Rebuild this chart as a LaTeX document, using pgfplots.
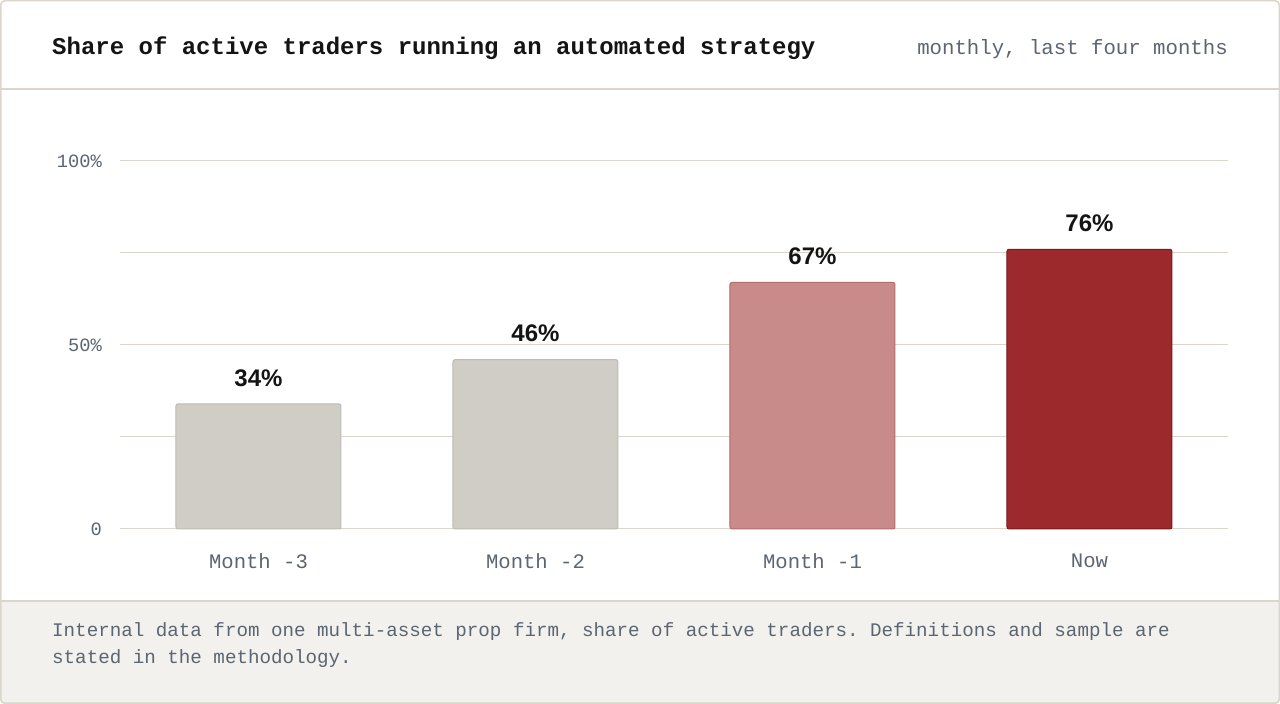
\documentclass[border=0pt]{standalone}
\usepackage{fontspec}
\usepackage{pgfplots}
\pgfplotsset{compat=1.18}
\setmainfont{Liberation Sans}
\setmonofont{Liberation Mono}
\newfontfamily\valfont{Liberation Sans}

\definecolor{framecol}{HTML}{DAD6CB}
\definecolor{footbg}{HTML}{F2F1ED}
\definecolor{gridcol}{HTML}{DAD6CD}
\definecolor{inkcol}{HTML}{141414}
\definecolor{mutedcol}{HTML}{5C6572}
\definecolor{graybar}{HTML}{D0CDC6}
\definecolor{graybord}{HTML}{BFBBB2}
\definecolor{pinkbar}{HTML}{C98A8A}
\definecolor{pinkbord}{HTML}{B26D6D}
\definecolor{redbar}{HTML}{9C2A2C}
\definecolor{redbord}{HTML}{7A1A1C}

\begin{document}
\begin{tikzpicture}[x=1pt,y=1pt]
\useasboundingbox (0,0) rectangle (1280,704);
% card background, header rule and footer band
\fill[white, rounded corners=4pt] (0,0) rectangle (1280,704);
\begin{scope}
\clip[rounded corners=4pt] (0,0) rectangle (1280,704);
\fill[footbg] (0,0) rectangle (1280,103);
\end{scope}
\draw[framecol, line width=1.2pt] (0,103) -- (1280,103);
\draw[framecol, line width=1.2pt] (0,615) -- (1280,615);
\draw[framecol, line width=1.5pt, rounded corners=4pt] (0.75,0.75) rectangle (1279.25,703.25);

% header
\node[anchor=base west, inner sep=0, text=inkcol, font=\fontsize{24}{28}\selectfont\ttfamily\bfseries] at (52,649) {Share of active traders running an automated strategy};
\node[anchor=base east, inner sep=0, text=mutedcol, font=\fontsize{20.7}{24}\selectfont\ttfamily] at (1228,649) {monthly, last four months};

% footer
\node[anchor=base west, inner sep=0, text=mutedcol, font=\fontsize{19.2}{27}\selectfont\ttfamily] at (52,67) {Internal data from one multi-asset prop firm, share of active traders. Definitions and sample are};
\node[anchor=base west, inner sep=0, text=mutedcol, font=\fontsize{19.2}{27}\selectfont\ttfamily] at (52,40) {stated in the methodology.};

\begin{axis}[
    anchor=south west, at={(120pt,175pt)},
    scale only axis, width=1108pt, height=368pt,
    xmin=-0.5, xmax=3.5, ymin=0, ymax=100,
    axis line style={draw=none},
    ybar, bar width=165pt,
    xtick={0,1,2,3},
    xticklabels={Month -3,Month -2,Month -1,Now},
    ytick={0,25,50,75,100},
    yticklabels={0,,50\%,,100\%},
    tick style={draw=none},
    ymajorgrids=true,
    grid style={gridcol, line width=1pt},
    yticklabel style={font=\fontsize{18.75}{22}\selectfont\ttfamily, text=mutedcol, inner sep=0pt, anchor=east, xshift=-18pt},
    xticklabel style={font=\fontsize{20.6}{24}\selectfont\ttfamily, text=mutedcol, inner sep=0pt, anchor=north, yshift=-20pt},
    clip=false,
    /pgf/number format/assume math mode=true,
    nodes near coords={\pgfmathprintnumber{\pgfplotspointmeta}\%},
    every node near coord/.append style={font=\fontsize{24}{28}\selectfont\valfont\bfseries, text=inkcol, inner sep=0pt, anchor=south, yshift=17pt},
]
\addplot[fill=graybar, draw=graybord, line width=1pt, rounded corners=2pt, bar shift=0pt] coordinates {(0,34)};
\addplot[fill=graybar, draw=graybord, line width=1pt, rounded corners=2pt, bar shift=0pt] coordinates {(1,46)};
\addplot[fill=pinkbar, draw=pinkbord, line width=1pt, rounded corners=2pt, bar shift=0pt] coordinates {(2,67)};
\addplot[fill=redbar, draw=redbord, line width=1pt, rounded corners=2pt, bar shift=0pt] coordinates {(3,76)};
\end{axis}
\end{tikzpicture}
\end{document}
